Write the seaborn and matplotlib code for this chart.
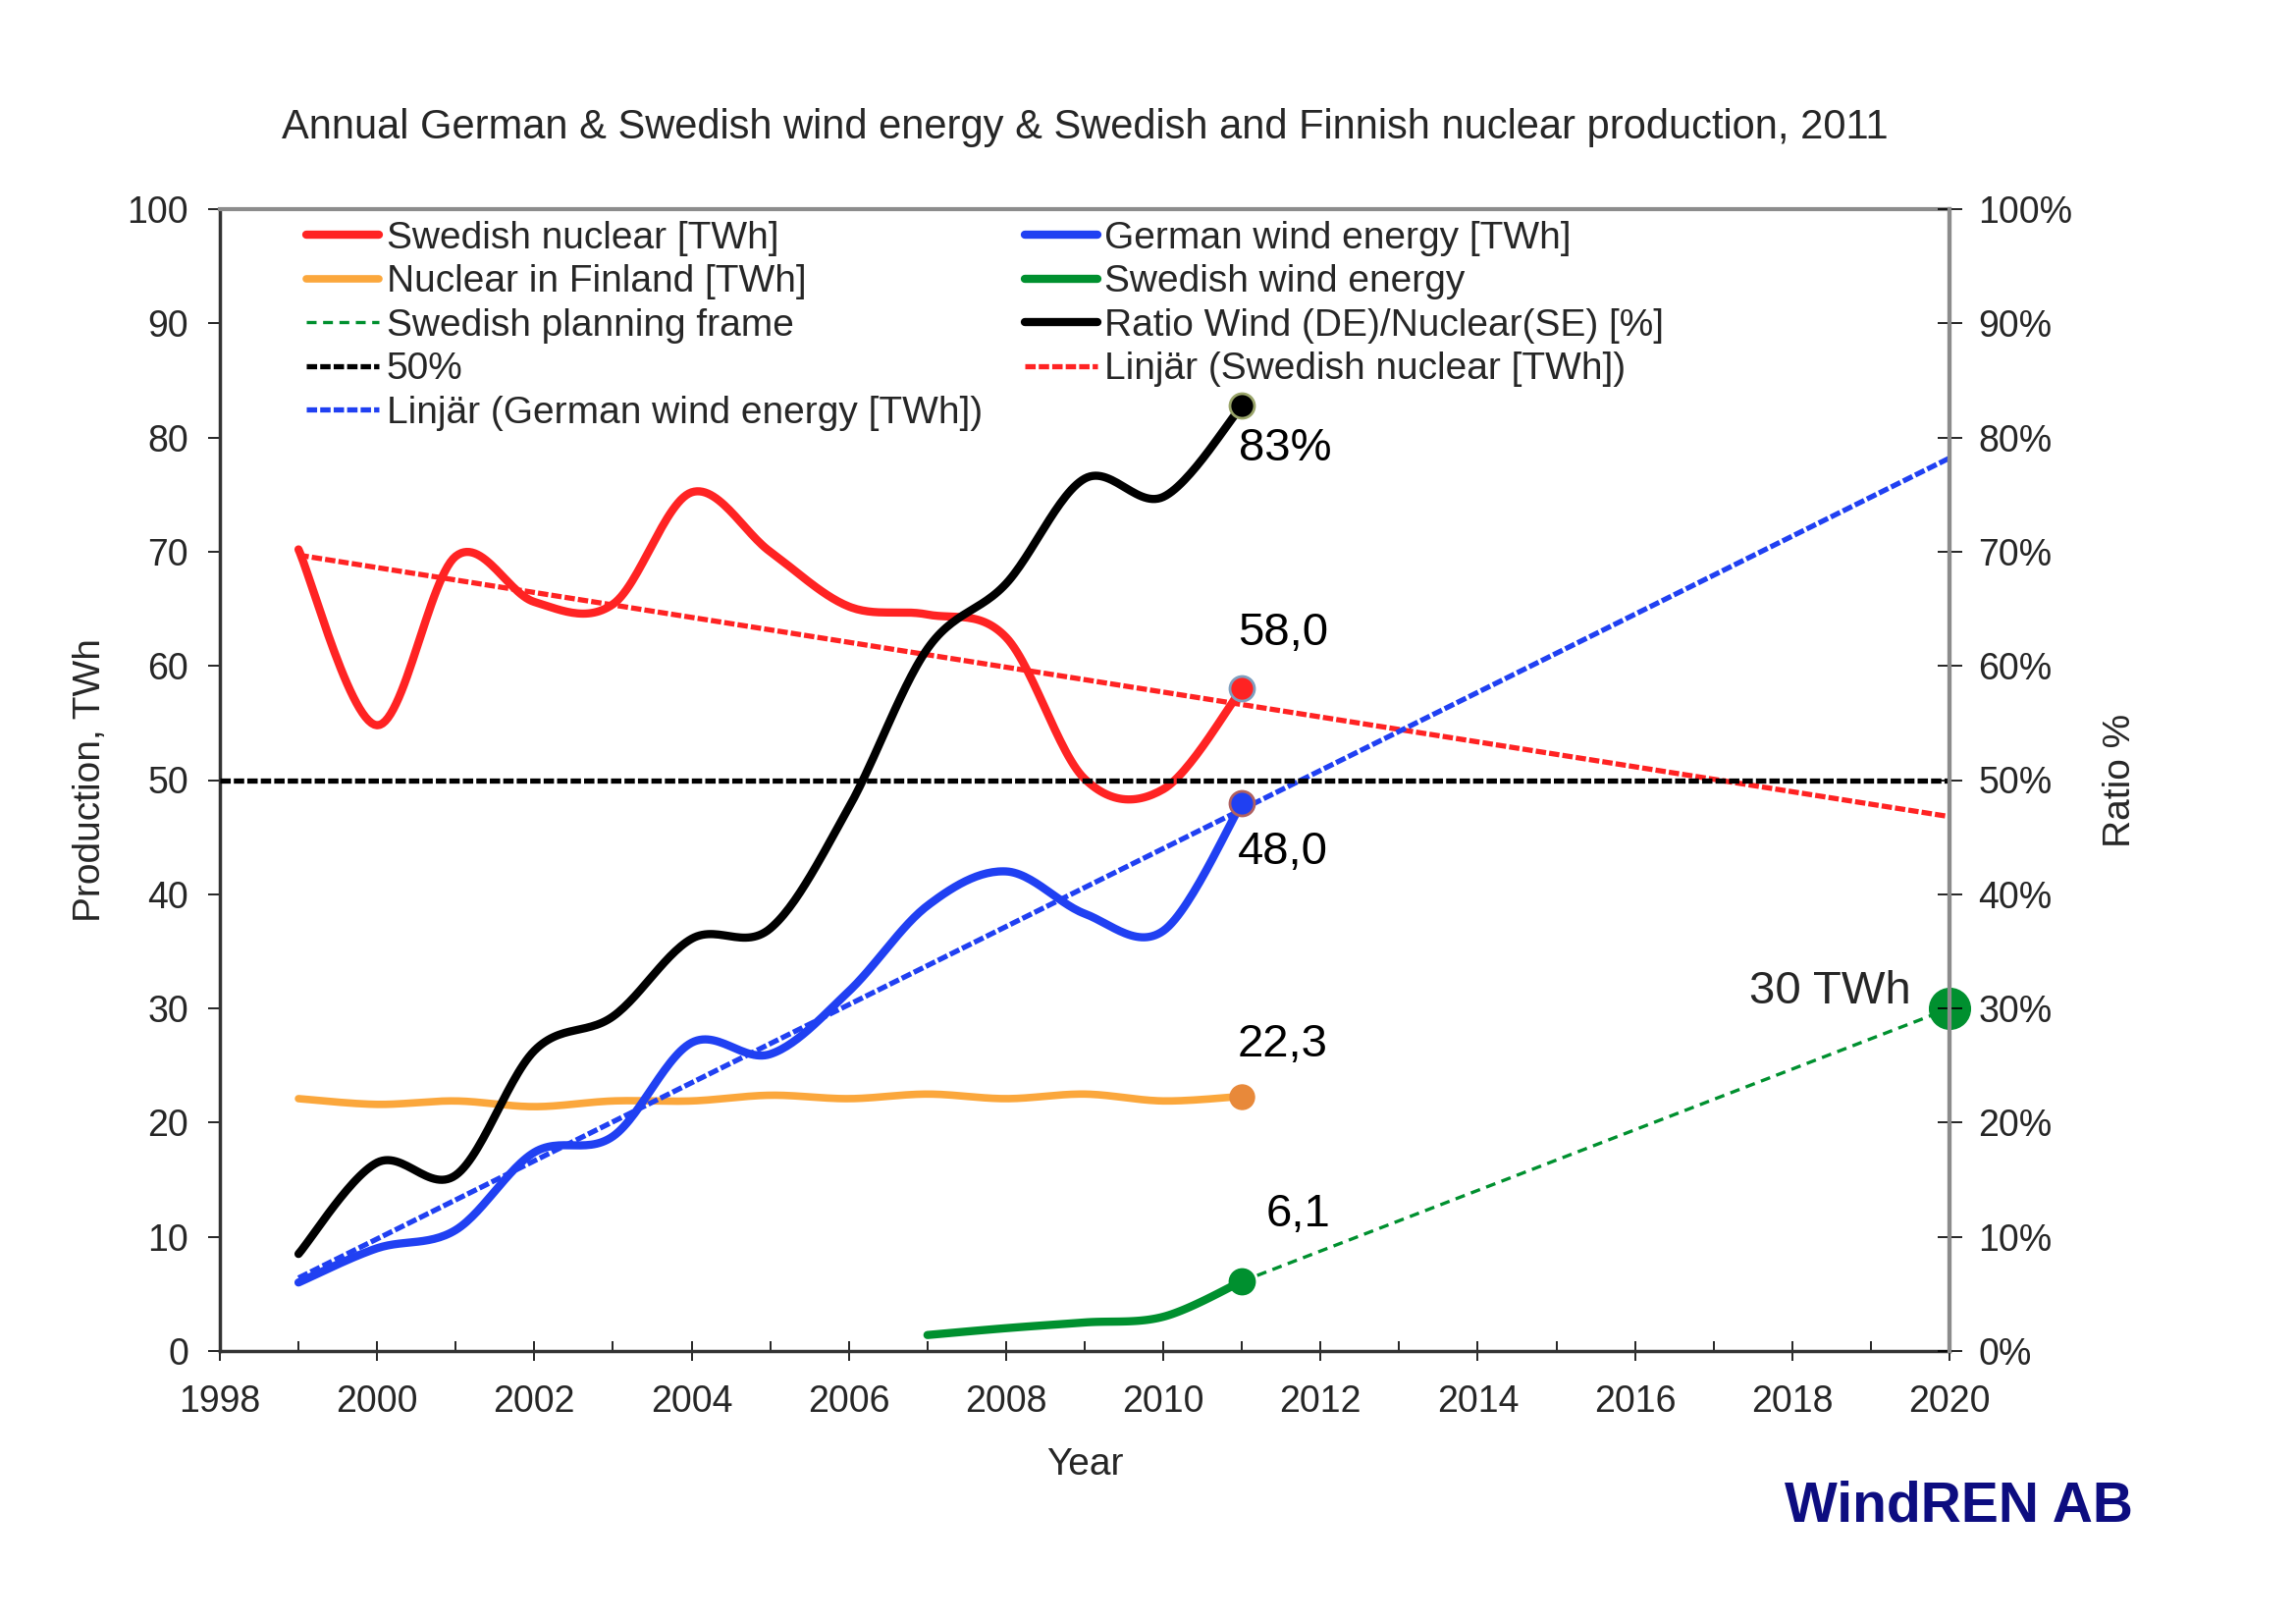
import numpy as np
import matplotlib
matplotlib.use("Agg")
import matplotlib.pyplot as plt
import seaborn as sns

# values
years = [1999, 2000, 2001, 2002, 2003, 2004, 2005, 2006, 2007, 2008, 2009, 2010, 2011]
se_nuclear = [70.2, 54.8, 69.6, 65.6, 65.4, 75.2, 70.0, 65.2, 64.5, 62.5, 50.1, 49.2, 58.0]
de_wind = [6.0, 9.0, 10.6, 17.4, 18.8, 27.0, 26.0, 31.5, 39.0, 42.0, 38.3, 36.8, 48.0]
fi_nuclear = [22.1, 21.6, 21.9, 21.4, 21.9, 21.9, 22.4, 22.1, 22.5, 22.1, 22.5, 21.9, 22.3]
ratio_pct = [8.5, 16.5, 15.4, 26.3, 29.3, 36.1, 37.0, 47.6, 61.5, 67.2, 76.4, 74.8, 82.8]

se_wind_years = [2007, 2008, 2009, 2010, 2011]
se_wind = [1.4, 2.0, 2.5, 3.0, 6.1]

plan_years = [2011, 2020]
plan_values = [6.1, 30.0]

trend_years = [1999, 2020]
se_nuclear_trend = [69.7, 46.8]
de_wind_trend = [6.4, 78.2]

fifty_years = [1998, 2020]
fifty_values = [50, 50]

RED = "#ff2323"
BLUE = "#2040f2"
ORANGE = "#fba73c"
GREEN = "#00902f"


def smooth(xs, ys, n=30):
    # Excel-like smoothed line (bezier through the points)
    pts = np.column_stack([xs, ys]).astype(float)
    out = []
    for i in range(len(pts) - 1):
        p0 = pts[max(i - 1, 0)]
        p1 = pts[i]
        p2 = pts[i + 1]
        p3 = pts[min(i + 2, len(pts) - 1)]
        b1 = p1 + (p2 - p0) / 6
        b2 = p2 - (p3 - p1) / 6
        t = np.linspace(0, 1, n)[:, None]
        seg = (1 - t) ** 3 * p1 + 3 * (1 - t) ** 2 * t * b1 + 3 * (1 - t) * t ** 2 * b2 + t ** 3 * p2
        out.append(seg if i == 0 else seg[1:])
    return np.vstack(out)


def smooth_line(ax, xs, ys, **kw):
    s = smooth(xs, ys)
    sns.lineplot(x=s[:, 0], y=s[:, 1], ax=ax, sort=False, estimator=None, **kw)
    return ax.lines[-1]


sns.set_theme(style="white")
plt.rcParams["font.family"] = ["Liberation Sans", "DejaVu Sans"]

W, H = 2339, 1652
fig = plt.figure(figsize=(W / 100, H / 100), dpi=100)
ax = fig.add_axes([224 / W, 1 - 1376 / H, (1986 - 224) / W, (1376 - 213) / H])
ax2 = ax.twinx()

l_sen = smooth_line(ax, years, se_nuclear, color=RED, lw=6.0)
l_fin = smooth_line(ax, years, fi_nuclear, color=ORANGE, lw=5.5)
l_dew = smooth_line(ax, years, de_wind, color=BLUE, lw=6.0)
l_sew = smooth_line(ax, se_wind_years, se_wind, color=GREEN, lw=6.0)

sns.lineplot(x=plan_years, y=plan_values, ax=ax, color=GREEN, lw=2.4)
l_plan = ax.lines[-1]
l_plan.set_dashes((3, 2))

sns.lineplot(x=trend_years, y=se_nuclear_trend, ax=ax, color=RED, lw=3.8)
l_set = ax.lines[-1]
l_set.set_dashes((2.0, 0.6))
sns.lineplot(x=trend_years, y=de_wind_trend, ax=ax, color=BLUE, lw=3.8)
l_det = ax.lines[-1]
l_det.set_dashes((2.0, 0.6))

# ratio series on the secondary axis
sns.lineplot(x=fifty_years, y=fifty_values, ax=ax2, color="black", lw=3.8)
l_50 = ax2.lines[-1]
l_50.set_dashes((2.0, 0.6))
l_rat = smooth_line(ax2, years, ratio_pct, color="black", lw=6.0)

# end markers
ax.plot(years[-1], fi_nuclear[-1], "o", ms=18, color="#e8893a", mec="#e8893a", zorder=5)
ax.plot(years[-1], se_nuclear[-1], "o", ms=18, color=RED, mec="#7f9fbf", mew=2, zorder=5)
ax.plot(years[-1], de_wind[-1], "o", ms=18, color=BLUE, mec="#b06060", mew=2, zorder=5)
ax.plot(se_wind_years[-1], se_wind[-1], "o", ms=19, color=GREEN, zorder=5)
ax.plot(plan_years[-1], plan_values[-1], "o", ms=30, color=GREEN, zorder=6, clip_on=False)
ax2.plot(years[-1], ratio_pct[-1], "o", ms=18, color="black", mec="#9aa56a", mew=2, zorder=5)

# value labels
lab_kw = dict(textcoords="offset points", ha="center", va="center", fontsize=34, color="black")
ax2.annotate("83%", (years[-1], ratio_pct[-1]), xytext=(32, -32), **lab_kw)
ax.annotate("58,0", (years[-1], se_nuclear[-1]), xytext=(30, 41), **lab_kw)
ax.annotate("48,0", (years[-1], de_wind[-1]), xytext=(30, -36), **lab_kw)
ax.annotate("22,3", (years[-1], fi_nuclear[-1]), xytext=(30, 38), **lab_kw)
ax.annotate("6,1", (se_wind_years[-1], se_wind[-1]), xytext=(41, 49), **lab_kw)
ax.annotate("30 TWh", (plan_years[-1], plan_values[-1]), xytext=(-28, 12),
            textcoords="offset points", ha="right", va="center", fontsize=34)

ax.set_xlim(1998, 2020)
ax.set_ylim(0, 100)
ax2.set_ylim(0, 100)
ax.set_xticks(range(1998, 2021, 2))
ax.set_xticks(range(1999, 2020, 2), minor=True)
ax.set_yticks(range(0, 101, 10))
ax2.set_yticks(range(0, 101, 10))
ax2.set_yticklabels([f"{v}%" for v in range(0, 101, 10)])

ax.tick_params(axis="x", which="major", bottom=True, direction="inout", length=15,
               width=1.2, color="black", labelsize=27, pad=17)
ax.tick_params(axis="x", which="minor", bottom=True, direction="in", length=7,
               width=1.2, color="black")
ax.tick_params(axis="y", which="major", left=True, direction="out", length=9,
               width=1.2, color="black", labelsize=27, pad=14)
ax2.tick_params(axis="y", which="major", right=True, direction="inout", length=18,
                width=1.2, color="black", labelsize=27, pad=12)

for s in ["top", "right"]:
    ax.spines[s].set_color("#8c8c8c")
    ax.spines[s].set_linewidth(3)
for s in ["left", "bottom"]:
    ax.spines[s].set_color("#333333")
    ax.spines[s].set_linewidth(2.5)
for s in ["top", "left", "bottom"]:
    ax2.spines[s].set_visible(False)
ax2.spines["right"].set_color("#8c8c8c")
ax2.spines["right"].set_linewidth(3)

ax.set_xlabel("Year", fontsize=28, labelpad=20)
ax.set_ylabel("Production, TWh", fontsize=28, labelpad=14)
ax2.set_ylabel("Ratio %", fontsize=28, labelpad=22)
ax.set_title("Annual German & Swedish wind energy & Swedish and Finnish nuclear production, 2011",
             fontsize=30, pad=52)

handles = [l_sen, l_fin, l_plan, l_50, l_det, l_dew, l_sew, l_rat, l_set]
labels = ["Swedish nuclear [TWh]", "Nuclear in Finland [TWh]", "Swedish planning frame",
          "50%", "Linjär (German wind energy [TWh])", "German wind energy [TWh]",
          "Swedish wind energy", "Ratio Wind (DE)/Nuclear(SE) [%]",
          "Linjär (Swedish nuclear [TWh])"]
ax2.legend(handles, labels, ncol=2, loc="upper left", bbox_to_anchor=(0.05, 0.99),
           frameon=False, fontsize=28, handlelength=1.9, handletextpad=0.2,
           labelspacing=0.22, columnspacing=1.1, borderpad=0, borderaxespad=0)

fig.text(2173 / W, 1 - 1535 / H, "WindREN AB", ha="right", va="center", fontsize=41,
         fontweight="bold", color="#0d0d80",
         family=["DejaVu Sans Condensed", "Liberation Sans"])

fig.savefig("out.png", dpi=100, facecolor="white")
